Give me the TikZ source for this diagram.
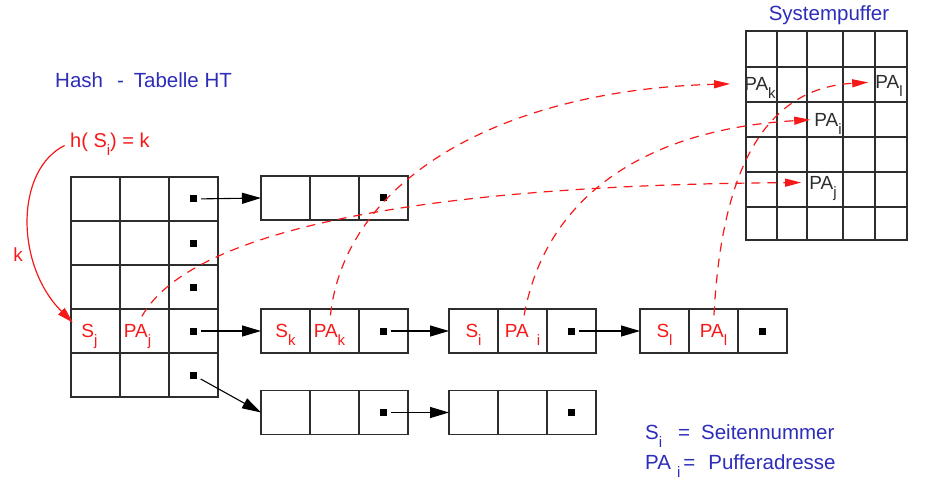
\documentclass[tikz,border=0pt]{standalone}
\usepackage{fontspec}
\setmainfont{Liberation Sans}
\usetikzlibrary{calc,arrows.meta}
\definecolor{htred}{RGB}{245,25,25}
\definecolor{htblue}{RGB}{45,45,185}
\definecolor{htgray}{RGB}{45,45,45}
\newcommand{\idx}[1]{\raisebox{-8pt}[0pt][0pt]{\fontsize{15}{15}\selectfont #1}}

\begin{document}
\begin{tikzpicture}[x=1pt,y=-1pt,
    cell/.style={draw=htgray, line width=1.3pt, minimum width=49pt, minimum height=44pt, inner sep=0pt, outer sep=0pt},
    ptr/.style={fill=black, minimum size=7pt, inner sep=0pt},
    lbl/.style={text=htred, inner sep=0pt, font=\fontsize{19}{19}\selectfont},
    buf/.style={text=htgray, inner sep=0pt, font=\fontsize{19}{19}\selectfont},
    ttl/.style={text=htblue, inner sep=0pt, font=\fontsize{20.5}{20.5}\selectfont},
    link/.style={-{Triangle[length=19pt,width=11pt]}, line width=1.1pt, shorten <=4pt},
    addr/.style={htred, line width=1.2pt, dash pattern=on 9pt off 7pt, -{Triangle[length=16pt,width=8pt]}}]
  \useasboundingbox (0,0) rectangle (934,489);

  % hash table
  \foreach \r/\y in {1/199,2/243,3/287,4/331,5/375}
    \foreach \c/\x in {1/95.5,2/144.5,3/193.5}
      \node[cell] (ht-\r-\c) at (\x,\y) {};
  \foreach \r in {1,...,5}
    \node[ptr] (hp-\r) at (ht-\r-3) {};

  % overflow chains
  \foreach \c/\x in {1/285.5,2/334.5,3/383.5} {
    \node[cell] (ca\c) at (\x,198) {};
    \node[cell] (ck\c) at (\x,331) {};
    \node[cell] (cx\c) at (\x,412.5) {};
  }
  \foreach \c/\x in {1/473.5,2/522.5,3/571.5} {
    \node[cell] (ci\c) at (\x,331) {};
    \node[cell] (cy\c) at (\x,412.5) {};
  }
  \foreach \c/\x in {1/664.5,2/713.5,3/762.5}
    \node[cell] (cl\c) at (\x,331) {};
  \node[ptr] (pa) at (ca3) {};
  \node[ptr] (pk) at (ck3) {};
  \node[ptr] (pi) at (ci3) {};
  \node[ptr] (pl) at (cl3) {};
  \node[ptr] (px) at (cx3) {};
  \node[ptr] (py) at (cy3) {};

  \draw[link] (hp-1) -- (ca1.west);
  \draw[link] (hp-4) -- (ck1.west);
  \draw[link] (hp-5) -- (cx1.west);
  \draw[link] (pk) -- (ci1.west);
  \draw[link] (pi) -- (cl1.west);
  \draw[link] (px) -- (cy1.west);

  % system buffer
  \foreach \x in {746,777,807,843,875,907}
    \draw[htgray, line width=1.3pt, line cap=rect] (\x,31) -- (\x,240);
  \foreach \y in {31,67,102,137,172,207,240}
    \draw[htgray, line width=1.3pt, line cap=rect] (746,\y) -- (907,\y);

  % labels
  \node[ttl, anchor=base west] (httl) at (55,88) {Hash\hspace{14pt}-\hspace{10pt}Tabelle HT};
  \node[ttl, anchor=base] (sttl) at (829,21) {Systempuffer};
  \node[lbl, anchor=base west, font=\fontsize{20}{20}\selectfont] (hlab) at (70,148) {h( S\idx{i}) = k};
  \node[lbl] (klab) at (18,255) {k};

  \node[lbl, xshift=-6pt] (sj) at (ht-4-1) {S\idx{j}};
  \node[lbl, xshift=-7pt] (paj) at (ht-4-2) {PA\idx{j}};
  \node[lbl] (sk) at (ck1) {S\idx{k}};
  \node[lbl, xshift=-5pt] (pak) at (ck2) {PA\idx{k}};
  \node[lbl] (si) at (ci1) {S\idx{i}};
  \node[lbl] (pai) at (ci2) {PA\hspace{8pt}\idx{i}};
  \node[lbl] (sl) at (cl1) {S\idx{l}};
  \node[lbl] (pal) at (cl2) {PA\idx{l}};

  \node[buf] (bk) at (760,83.5) {PA\idx{k}};
  \node[buf] (bl) at (889,82) {PA\idx{l}};
  \node[buf] (bi) at (828,119.5) {PA\idx{i}};
  \node[buf] (bj) at (823,182.5) {PA\idx{j}};

  \node[ttl, anchor=base west] (leg1) at (645,439) {S\idx{i}\hspace{16pt}=\hspace{11pt}Seitennummer};
  \node[ttl, anchor=base west] (leg2) at (645,469) {PA\hspace{6pt}\idx{i}\hspace{3pt}=\hspace{13pt}Pufferadresse};

  % hashing and address links
  \draw[htred, line width=1.2pt, -{Triangle[length=16pt,width=9pt]}, shorten <=6pt, shorten >=12pt]
    (hlab.west) .. controls (15,170) and (15,265) .. (sj.west);
  \draw[addr, shorten <=9pt, shorten >=8pt] (paj.north) .. controls (190,230) and (420,185) .. (bj.west);
  \draw[addr, shorten <=9pt, shorten >=14pt] (pak.north) .. controls (345,180) and (500,90) .. (bk.west);
  \draw[addr, shorten <=9pt, shorten >=4pt] (pai.north) .. controls (545,200) and (640,130) .. (bi.west);
  \draw[addr, shorten <=9pt, shorten >=7pt] (pal.north) .. controls (722,160) and (770,88) .. (bl.west);
\end{tikzpicture}
\end{document}
